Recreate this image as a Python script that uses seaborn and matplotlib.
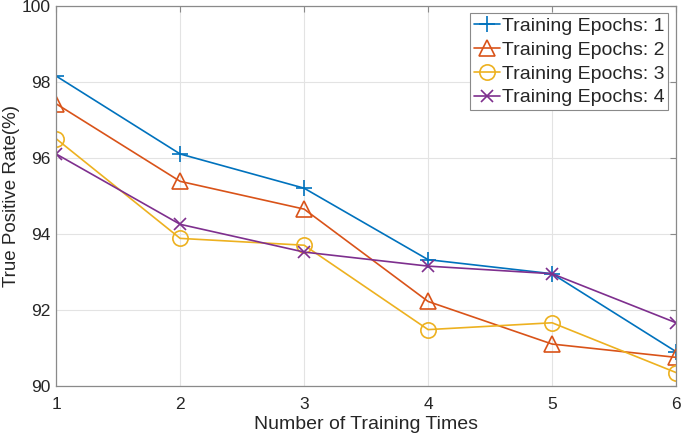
import pandas as pd
import numpy as np
import matplotlib
matplotlib.use('Agg')
import matplotlib.pyplot as plt
import seaborn as sns

times = [1, 2, 3, 4, 5, 6]
epochs_1 = [98.15, 96.1, 95.2, 93.32, 92.95, 90.9]
epochs_2 = [97.42, 95.38, 94.65, 92.22, 91.1, 90.75]
epochs_3 = [96.5, 93.88, 93.7, 91.48, 91.66, 90.35]
epochs_4 = [96.1, 94.25, 93.52, 93.15, 92.95, 91.66]
labels = ['Training Epochs: 1', 'Training Epochs: 2',
          'Training Epochs: 3', 'Training Epochs: 4']

colors = ['#0072BD', '#D95319', '#EDB120', '#7E2F8E']
markers = ['+', '^', 'o', 'x']
sizes = [11, 11, 11, 9]

sns.set_style('white')
plt.rcParams['font.family'] = ['Liberation Sans', 'DejaVu Sans']

fig = plt.figure(figsize=(6.85, 4.4), dpi=100)
ax = fig.add_axes([0.082, 0.123, 0.905, 0.864])

for vals, lab, c, m, s in zip([epochs_1, epochs_2, epochs_3, epochs_4],
                              labels, colors, markers, sizes):
    df = pd.DataFrame({'x': times, 'y': vals})
    sns.lineplot(data=df, x='x', y='y', ax=ax, color=c, marker=m,
                 markersize=s, mec=c, mfc='none', mew=1.2, lw=1.2,
                 label=lab)

ax.set_xlim(1, 6)
ax.set_ylim(90, 100)
ax.set_xticks([1, 2, 3, 4, 5, 6])
ax.set_yticks([90, 92, 94, 96, 98, 100])
ax.grid(True, color='#e3e3e3', lw=0.8)
ax.set_axisbelow(True)

for sp in ax.spines.values():
    sp.set_color('#8a8a8a')
    sp.set_linewidth(0.9)
ax.tick_params(direction='in', length=4, width=0.8, color='#8a8a8a',
               labelsize=12.5, labelcolor='#262626', top=True, right=True)
ax.tick_params(axis='x', pad=8)
ax.tick_params(axis='y', pad=4)

ax.set_xlabel('Number of Training Times', fontsize=14, color='#262626',
              labelpad=3)
ax.set_ylabel('True Positive Rate(%)', fontsize=13.5, color='#262626')
ax.yaxis.set_label_coords(-0.058, 0.5)

leg = ax.legend(loc='upper right', fontsize=14, handlelength=1.35,
                handletextpad=0.1, labelspacing=0.32, borderpad=0.2,
                borderaxespad=0.4, fancybox=False, framealpha=1,
                edgecolor='#8a8a8a')
leg.get_frame().set_linewidth(0.8)

fig.savefig('out.png', dpi=100)
